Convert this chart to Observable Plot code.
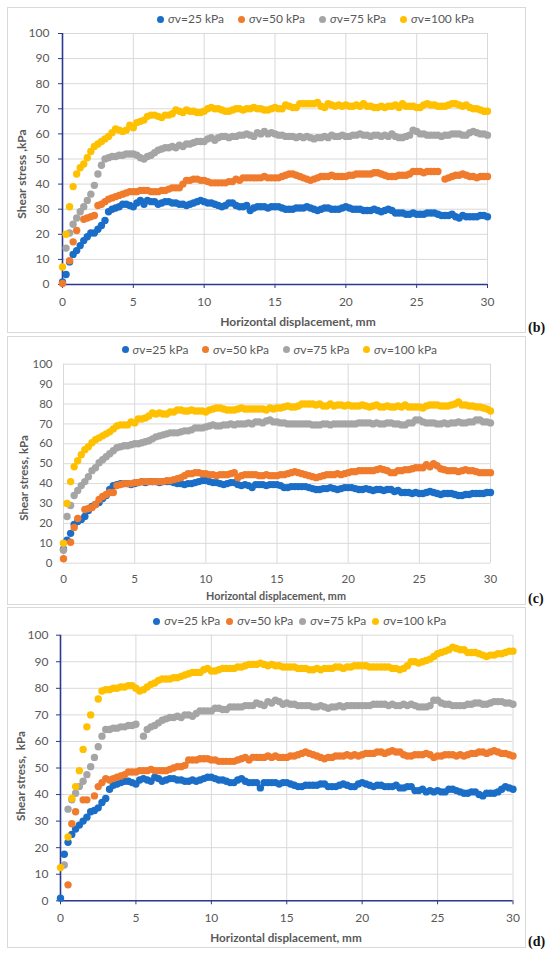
<!DOCTYPE html>
<html>
<head>
<meta charset="utf-8">
<script src="https://cdn.jsdelivr.net/npm/d3@7"></script>
<script src="https://cdn.jsdelivr.net/npm/@observablehq/plot@0.6"></script>
<style>
  html, body { margin: 0; padding: 0; background: #fff; }
  body { width: 550px; height: 957px; position: relative; overflow: hidden; font-family: Lato, "Open Sans", sans-serif; color: #595959; }
  .box { position: absolute; left: 7px; width: 519px; border: 1px solid #d9d9d9; box-sizing: border-box; }
  .abs { position: absolute; white-space: pre; line-height: 1; }
  .dotk { position: absolute; width: 7px; height: 7px; border-radius: 50%; }
  .tag { position: absolute; font-family: "Liberation Serif", "DejaVu Serif", serif; font-weight: bold; font-size: 14px; color: #111; line-height: 1; }
</style>
</head>
<body>
<script>
// ---- data: shear stress (kPa) read at horizontal displacement steps of 0.25 mm (0 ... 30 mm) ----
const displacement = d3.range(0, 30.25, 0.25);
const seriesLabels = ["25", "50", "75", "100"];
const seriesColors = ["#1a6ec8", "#f07b2c", "#a5a5a5", "#ffc000"];
const xTicks = [0, 5, 10, 15, 20, 25, 30];
const yTicks = [0, 10, 20, 30, 40, 50, 60, 70, 80, 90, 100];

// panel (b)
const b25 = [1,4,9,12,13.5,15.5,17.5,19,20.5,20.5,22,23.5,25.5,29,30,30.5,31,32,32,31.5,
  31,32.5,33.5,32,33.5,33,33,32,32.5,33,33,32.5,32.5,32,32,31.5,32,32.5,33,33.5,
  33,32.5,32.5,32,31.5,31,31.5,32.5,32.5,31.5,31,31,31.5,29.5,30.5,31,31,31,30.5,31,
  31,31,30.5,30,30,30,30.5,30.5,30.5,31,30.5,30,29.5,30,30.5,30.5,30,30,30,30.5,
  31,30.5,30,30,30,29.5,29.5,29.5,30,29.5,29,29.5,30,29.5,28.5,28.5,28.5,28,28,28.5,
  28,28,28,28.5,28.5,28.5,28,27.5,27.5,27.5,28,27,26.5,27.5,27,27,27,27,27.5,27.5,27];
const b50 = [0.4,null,9.5,17,21.5,null,26,26.5,27,27.5,31.5,32,33,34,34.5,35,35.5,36,36.5,37,
  37,37,37.5,37.5,37.5,37,37,37,37.5,37.5,38,38.5,38.5,38.5,40,41.5,41.5,42,42,41.5,
  41.5,41,40.5,40.5,40.5,40.5,40.5,41,41,42,41.5,42.5,42.5,42.5,42.5,42.5,42.5,43,42.5,42.5,
  42.5,42.5,43,43.5,44,44,43.5,43,42.5,42,41.5,42,42.5,43,43,43,43.5,43,43,43,
  43,43.5,43.5,44,44,44,44,44,44.5,44.5,44,43.5,43,43,43,43.5,43.5,43.5,44,45,
  45,45,44.5,45,45,45,45,null,42,42.5,43,43.5,43.5,44,43.5,43,43,42.5,43,43,43];
const b75 = [null,14.5,20.5,24,26.5,29,31,33.5,36,39.5,44,47.5,50,50.5,51,51,51.5,51.5,52,52,
  52,51.5,50.5,50,51,51.5,52.5,53.5,54,54.5,54.5,55,54.5,55.5,55,56,56,56.5,57,57,
  57,58,58.5,57.5,58.5,59,59,58.5,59,59,59.5,59.5,60,59.5,59,60.5,60,61,60,60.5,
  60,59.5,59.5,59,59,59,58.5,59,58.5,59,58.5,58,58.5,58.5,59,58.5,59.5,59,59,59.5,
  59,59,59.5,59.5,60,59.5,59.5,59,59.5,59.5,59,59.5,59,60,59,58.5,58.5,59,59.5,61.5,
  61,60,60,59.5,59.5,59.5,59.5,59,59.5,59.5,60,60,60,59.5,59.5,60.5,61,60.5,60,60,59.5];
const b100 = [7,20,31,39,44,46.5,48,50.5,53,55,56,57,58,59,60.5,62,61.5,61,61.5,63.5,
  62.5,64.5,65,65.5,67,67.5,67.5,67,66.5,67.5,67.5,68,69.5,69,68.5,69.5,69,69,68.5,68.5,
  69,70,70.5,70,70,69.5,69,69,69.5,70,70,69.5,70,70,70.5,70,70,69.5,69.5,70,
  70.5,70,70,71.5,71,70.5,70.5,72,72,72,72,72,72.5,71,70.5,72,71.5,71,71.5,71,
  71.5,71,71,71.5,71,72,71,71,70.5,70.5,71,70.5,71,71,71.5,70.5,72,71,71,71,
  70.5,70.5,71.5,72,71.5,71.5,71,71,71,71.5,72,72,71.5,71,71.5,70.5,70,70,69.5,69,69];

// panel (c)
const c25 = [7,11.5,15,19.5,21,22,23.5,26.5,28.5,29.5,30.5,32.5,34,37,39,39.5,40,40,40,39.5,
  40,40.5,41,40.5,41,41,41,40.5,41,41,41,40.5,40,40,39.5,40,40,40.5,41,41.5,
  41.5,41,40.5,40.5,40,39.5,40,40.5,40.5,39.5,39,39.5,39,38,39.5,39.5,39.5,39,39.5,39.5,
  39.5,39,38,38,38.5,38.5,38.5,38.5,38.5,38,37.5,37,37,37.5,37.5,38,37.5,37,37.5,38,
  38,38,37.5,37,37,37.5,37,36.5,37,37,36.5,37,37,36,36.5,35.5,35.5,35.5,35,35.5,
  35,35,35.5,36,35.5,35,34.5,35,35,35,34.5,34,34,34.5,34.5,35,35,35,35,35.5,35.5];
const c50 = [2.2,null,10.5,18,22.5,null,27,27.5,28,29.5,32,33.5,34.5,35.5,35.5,39,39.5,40,40,40,
  40.5,40.5,41,41,41,41,41,41,41,41.5,41.5,42,42.5,43,44,45,45,45.5,45.5,45,
  45,44.5,44.5,44,44.5,44.5,44.5,45,45.5,43,44,44.5,44.5,44.5,44.5,44,44,44.5,44,44,
  44,44.5,44.5,45,45.5,46,45.5,45,44.5,44,43.5,43,43.5,44,44.5,44.5,44.5,45,44.5,45,
  45.5,46,46,46.5,46.5,46.5,46.5,46.5,47,47.5,47,46.5,45.5,45.5,46.5,46.5,47,47,47.5,48,
  48,48,49.5,48.5,50,49,47.5,47,46.5,46.5,46.5,46,46.5,47,46.5,46.5,46,45.5,45.5,45.5,45.5];
const c75 = [6.5,23.5,29,34,36.5,39,41,43.5,46.5,48,50.5,52,53.5,55,56.5,58,58.5,59,59,59.5,
  60,60,60.5,61,61.5,62.5,63.5,64,64.5,65,65.5,65.5,65.5,66,66.5,66.5,67,68,68,68,
  68.5,69,69.5,69,69,69.5,69.5,70,69.5,70,70,70,70.5,70,71,71,70.5,71.5,72,71,
  71,70.5,70.5,70,70,70,70,70,70,70,69.5,69.5,69.5,70,70,69.5,70,70,70,70,
  70,70,70,70.5,70.5,70.5,70.5,70,70.5,70,70,70.5,70.5,70,70,69.5,69.5,70.5,70.5,72,
  72,71,70.5,70.5,70.5,70,70,70.5,70,70.5,70.5,71,70.5,70.5,71,71,72,72,71,71,70.5];
const c100 = [10,30,41,48.5,51.5,54.5,57,58.5,60.5,62,63,64,65,66,67.5,69,69.5,69.5,69.5,71,
  70.5,72.5,72.5,73,74,75.5,75,75.5,75,75,76,76,77,77,76.5,76.5,77,76.5,76.5,76.5,
  76,77,77.5,78,78,77.5,77,77,77,77.5,78,77.5,77.5,77.5,77.5,77.5,77.5,77,78,77.5,
  78,78,78.5,79,78.5,78.5,79,80,80,80,80,79.5,80,79,79,80,79,79.5,79.5,79,
  79.5,79,79,79,79.5,79,78.5,79,79.5,78.5,78.5,79,78.5,78.5,79,78.5,79.5,78.5,78.5,78.5,
  78.5,78,79,79.5,79.5,79.5,79,79,79,79.5,80,81,79.5,79.5,79,79,78.5,78.5,78,77.5,76.5];

// panel (d)
const d25 = [1,17.5,22,25,27,28.5,30,31.5,33.5,34,35,37,38.5,42,43.5,44,44.5,45,45,44.5,
  44,45.5,46,45.5,45,46.5,46,45,45.5,46,46,45.5,45.5,45,45,45.5,45,45.5,46,46.5,
  46.5,46,45.5,45.5,45,44.5,44.5,45.5,46,45,44.5,44.5,44.5,42.5,44.5,44.5,44.5,44.5,44,44.5,
  44.5,44,43.5,43,43,43.5,43.5,43.5,43.5,44,44,43,43,43,43.5,44,43.5,43,43,44,
  44.5,44,43.5,43,43.5,43.5,43,43,43,43.5,42.5,42.5,43,43,41.5,41.5,42,41,41.5,41,
  41.5,41,41,42,42,41.5,41,40.5,40.5,41,41,40,39.5,40.5,40.5,40.5,41,42,43,42.5,42];
const d50 = [null,null,6,29,33.5,null,38,38,null,39.5,43,44.5,46,45.5,46,46.5,47,47.5,48.5,48.5,
  48.5,49,49,49,49.5,49,49,49,49,49.5,50,50.5,50.5,51,53,53,53,53.5,53.5,53.5,
  53,53,52.5,52.5,52.5,52.5,52.5,53,53.5,54,53,54,54,54,54,54.5,54,54.5,54,54,
  54,54.5,54.5,55,55.5,56,55.5,55,54.5,54,53.5,54,54,54.5,54.5,54.5,55,54.5,55,54.5,
  55,55.5,55.5,55.5,56,56,55.5,56,56.5,56,56,55,54.5,54.5,55,55,55,55.5,55,54,
  54.5,54.5,55,55,55,54.5,55,54.5,55,55.5,55.5,56,56,55.5,56,56.5,56,55.5,55.5,55,54.5];
const d75 = [null,13.5,34.5,38,40.5,43,45,47.5,50.5,54,58,62,64.5,64.5,65,65,65.5,65.5,66,66,
  66.5,null,62,64.5,65.5,66,67,68,68.5,69,69,69.5,69,70,70,69.5,70.5,71.5,71.5,71.5,
  71.5,72.5,72.5,72,72,73,73,73,73,73.5,73.5,73.5,74.5,74,73.5,75,74.5,75.5,75,74,
  74.5,74,74,73.5,73.5,73.5,73.5,73,73,73.5,73,72.5,73,73,73.5,73,73.5,73.5,73.5,73.5,
  73.5,73.5,73.5,74,74,74,74,73.5,74,73.5,73.5,74,73.5,74,73.5,73,73,73,73.5,75.5,
  75.5,74.5,74,74,73.5,73.5,73.5,73.5,74,74,74.5,74.5,74,74,74.5,75,75,75,74.5,74.5,74];
const d100 = [12.5,null,24,38.5,43,49,57,65.5,70,null,76,79,79.5,79.5,80,80,80.5,80.5,81,81,
  80,79,79.5,80.5,81.5,82,83,83.5,83.5,83.5,84,84,84.5,85,85.5,86,86,86,87,87.5,
  86.5,86.5,87,87.5,87.5,87.5,87.5,88,88,88.5,89,89,89,89.5,89,88.5,89,88.5,88.5,88,
  88,88,88,87.5,87.5,87.5,87,87,87.5,87,87.5,87.5,87.5,88,88,87.5,88,88,88.5,88.5,
  88.5,88.5,88,88,88,88,88,88,87.5,87.5,87,87.5,88.5,90,90,89.5,90,90.5,91,92,
  93,93.5,94,94.5,95.5,95,94.5,94.5,93.5,93.5,93.5,93,92.5,92,92.5,92.5,93,93,93.5,94,94];

const xTitle = "Horizontal displacement, mm";

// ---- layout (page pixels) ----
const panels = [
  { tag: "(b)", series: [b25, b50, b75, b100], boxTop: 7, boxBottom: 333,
    x0: 62, x1: 487, y100: 33, y0: 284, svgTop: 26, svgH: 292, navy: true,
    tickFont: 12, xPad: 9.4, yPad: 9,
    legendY: 19, legendX: 160.6, legendStep: 81,
    xtX: 298, xtY: 321.7, xtFont: 12, ytX: 21.7, ytY: 173.5, ytFont: 12, yTitle: "Shear stress ,kPa",
    tagY: 327.5 },
  { tag: "(c)", series: [c25, c50, c75, c100], boxTop: 336, boxBottom: 605,
    x0: 63, x1: 490, y100: 363.7, y0: 562.7, svgTop: 356, svgH: 234, navy: false,
    tickFont: 11.5, xPad: 11.7, yPad: 11,
    legendY: 349.7, legendX: 125, legendStep: 80.5,
    xtX: 276, xtY: 596, xtFont: 10.8, ytX: 24, ytY: 478, ytFont: 11.5, yTitle: "Shear stress, kPa",
    tagY: 599 },
  { tag: "(d)", series: [d25, d50, d75, d100], boxTop: 607, boxBottom: 948,
    x0: 60, x1: 512.5, y100: 634.7, y0: 900.3, svgTop: 628, svgH: 300, navy: true,
    tickFont: 12, xPad: 8.4, yPad: 8,
    legendY: 621, legendX: 156.8, legendStep: 73,
    xtX: 286, xtY: 937.7, xtFont: 11.7, ytX: 21, ytY: 776, ytFont: 11.7, yTitle: "Shear stress,  kPa",
    tagY: 942 }
];

const navy = "#2b3990";
const grid = "#d9d9d9";

function el(tag, cls, styles, html) {
  const e = document.createElement(tag);
  if (cls) e.className = cls;
  Object.assign(e.style, styles || {});
  if (html != null) e.innerHTML = html;
  document.body.appendChild(e);
  return e;
}

for (const p of panels) {
  el("div", "box", { top: p.boxTop + "px", height: (p.boxBottom - p.boxTop) + "px" });

  const rows = p.series.map(vals =>
    vals.map((v, i) => ({ d: displacement[i], tau: v })).filter(r => r.tau != null));

  const marks = [
    Plot.gridX(xTicks, { stroke: grid, strokeOpacity: 1 }),
    Plot.gridY(yTicks, { stroke: grid, strokeOpacity: 1 }),
    Plot.axisX(xTicks, { tickSize: p.navy ? 4 : 0, tickPadding: p.xPad, stroke: navy, fill: "#595959", label: null }),
    Plot.axisY(yTicks, { tickSize: p.navy ? 4 : 0, tickPadding: p.yPad, stroke: navy, fill: "#595959", label: null })
  ];
  if (p.navy) {
    marks.push(Plot.ruleX([0], { stroke: navy, strokeWidth: 1.6 }));
    marks.push(Plot.ruleY([0], { stroke: navy, strokeWidth: 1.6 }));
  }
  rows.forEach((r, k) => marks.push(Plot.dot(r, { x: "d", y: "tau", r: 3.7, fill: seriesColors[k], stroke: "none" })));

  const svg = Plot.plot({
    width: 550, height: p.svgH,
    marginLeft: p.x0, marginRight: 550 - p.x1,
    marginTop: p.y100 - p.svgTop, marginBottom: p.svgTop + p.svgH - p.y0,
    x: { domain: [0, 30], label: null },
    y: { domain: [0, 100], label: null },
    style: { background: "transparent", overflow: "visible", fontFamily: "Lato, 'Open Sans', sans-serif", fontSize: p.tickFont + "px", color: "#595959" },
    marks
  });
  svg.style.position = "absolute";
  svg.style.left = "0px";
  svg.style.top = p.svgTop + "px";
  svg.style.maxWidth = "none";
  document.body.appendChild(svg);

  // legend
  seriesLabels.forEach((lab, k) => {
    const cx = p.legendX + k * p.legendStep;
    el("div", "dotk", { left: (cx - 3.5) + "px", top: (p.legendY - 3.5) + "px", background: seriesColors[k] });
    el("div", "abs", { left: (cx + 7.5) + "px", top: p.legendY + "px", fontSize: "12px", transform: "translateY(-50%)", color: "#595959" },
      "<i>σ</i>v=" + lab + " kPa");
  });

  // axis titles
  el("div", "abs", { left: p.xtX + "px", top: p.xtY + "px", fontSize: p.xtFont + "px", fontWeight: "bold",
    transform: "translate(-50%,-50%)", color: "#595959" }, xTitle);
  el("div", "abs", { left: p.ytX + "px", top: p.ytY + "px", fontSize: p.ytFont + "px", fontWeight: "bold",
    transform: "translate(-50%,-50%) rotate(-90deg)", color: "#595959" }, p.yTitle);

  el("div", "tag", { left: "528px", top: p.tagY + "px", transform: "translateY(-50%)" }, p.tag);
}
</script>
</body>
</html>
